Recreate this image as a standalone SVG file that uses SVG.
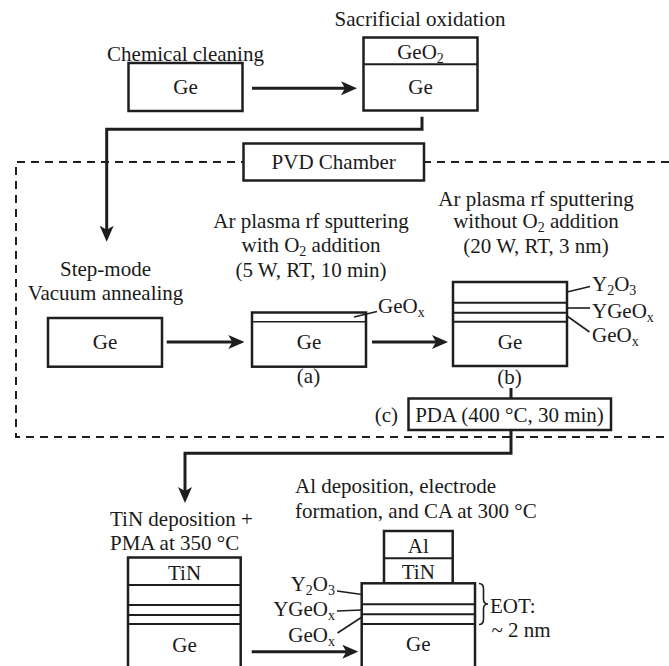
<svg xmlns="http://www.w3.org/2000/svg" width="669" height="666" viewBox="0 0 669 666">
<defs>
<style>
text{font-family:"Liberation Serif","Times New Roman",serif;font-size:21px;fill:#1a1a1a}
.m{text-anchor:middle}
.e{text-anchor:end}
.s{font-size:14px}
.box{fill:#fff;stroke:#1e1e1e;stroke-width:2.5}
.ln{fill:none;stroke:#1e1e1e;stroke-width:2}
.thin{fill:none;stroke:#1e1e1e;stroke-width:1.6}
.con{fill:none;stroke:#1e1e1e;stroke-width:3}
.dash{fill:none;stroke:#1e1e1e;stroke-width:2;stroke-dasharray:8 6}
</style>
<marker id="ah" viewBox="0 0 16 14" refX="6" refY="7" markerWidth="16" markerHeight="14" markerUnits="userSpaceOnUse" orient="auto">
<path d="M0,0 L16,7 L0,14 L4,7 Z" fill="#1e1e1e"/>
</marker>
</defs>
<rect width="669" height="666" fill="#fff"/>

<g id="chamber">
<path class="dash" d="M669,162 H16 V437 H669"/>
</g>

<g id="connectors">
<path class="con" d="M252,88.3 H347" marker-end="url(#ah)"/>
<path class="con" d="M422,116.7 V129.3 H106.7 V231.7" marker-end="url(#ah)"/>
<path class="con" d="M166.7,342 H234.3" marker-end="url(#ah)"/>
<path class="con" d="M372,342 H438" marker-end="url(#ah)"/>
<path class="con" d="M511,388 V398.5"/>
<path class="con" d="M511,430 V453.3 H185 V493" marker-end="url(#ah)"/>
<path class="con" d="M251.7,651.7 H348.3" marker-end="url(#ah)"/>
</g>

<g id="chemical-cleaning">
<text class="m" x="185.5" y="61">Chemical cleaning</text>
<rect class="box" x="128.5" y="63" width="114" height="48"/>
<text class="m" x="185.5" y="94">Ge</text>
</g>

<g id="sacrificial-oxidation">
<text class="m" x="420" y="26">Sacrificial oxidation</text>
<rect class="box" x="363.5" y="37.5" width="114" height="73"/>
<line class="ln" x1="363.5" y1="64.3" x2="477.5" y2="64.3"/>
<text class="m" x="420.5" y="59">GeO<tspan class="s" dy="4">2</tspan></text>
<text class="m" x="420.5" y="94">Ge</text>
</g>

<g id="pvd-chamber">
<rect class="box" x="243.5" y="143.5" width="180.5" height="37"/>
<text class="m" x="333.7" y="169">PVD Chamber</text>
</g>

<g id="vacuum-annealing">
<text class="m" x="105.5" y="276">Step-mode</text>
<text class="m" x="105.5" y="300">Vacuum annealing</text>
<rect class="box" x="48" y="318" width="114" height="48.7"/>
<text class="m" x="105" y="349">Ge</text>
</g>

<g id="step-a">
<text class="m" x="311" y="228">Ar plasma rf sputtering</text>
<text class="m" x="311" y="252">with O<tspan class="s" dy="4">2</tspan><tspan dy="-4"> addition</tspan></text>
<text class="m" x="311" y="277">(5 W, RT, 10 min)</text>
<rect class="box" x="252" y="312.5" width="114" height="54.2"/>
<line class="thin" x1="252" y1="321.7" x2="366" y2="321.7"/>
<text class="m" x="309" y="349">Ge</text>
<line class="thin" x1="354" y1="317" x2="377" y2="311.5"/>
<text x="378" y="313">GeO<tspan class="s" dy="4">x</tspan></text>
<text class="m" x="308.5" y="383">(a)</text>
</g>

<g id="step-b">
<text class="m" x="536" y="206">Ar plasma rf sputtering</text>
<text class="m" x="536" y="228">without O<tspan class="s" dy="4">2</tspan><tspan dy="-4"> addition</tspan></text>
<text class="m" x="536" y="253">(20 W, RT, 3 nm)</text>
<rect class="box" x="453" y="282" width="114" height="84"/>
<line class="ln" x1="453" y1="302.7" x2="567" y2="302.7"/>
<line class="ln" x1="453" y1="312.7" x2="567" y2="312.7"/>
<line class="ln" x1="453" y1="321.7" x2="567" y2="321.7"/>
<text class="m" x="510" y="349">Ge</text>
<line class="thin" x1="567" y1="292" x2="590" y2="286.5"/>
<line class="thin" x1="567" y1="308" x2="590" y2="308"/>
<line class="thin" x1="567" y1="316" x2="589.5" y2="332"/>
<text x="592" y="291">Y<tspan class="s" dy="4">2</tspan><tspan dy="-4">O</tspan><tspan class="s" dy="4">3</tspan></text>
<text x="592" y="318">YGeO<tspan class="s" dy="4">x</tspan></text>
<text x="592" y="342">GeO<tspan class="s" dy="4">x</tspan></text>
<text class="m" x="509.5" y="384">(b)</text>
</g>

<g id="pda">
<rect class="box" x="408.5" y="398.5" width="202.5" height="31.5"/>
<text class="m" x="509.5" y="421.7">PDA (400 °C, 30 min)</text>
<text class="e" x="398" y="421.7">(c)</text>
</g>

<g id="tin-deposition">
<text x="110" y="526">TiN deposition +</text>
<text x="110" y="550">PMA at 350 °C</text>
<rect class="box" x="128" y="557.5" width="112.7" height="115"/>
<line class="ln" x1="128" y1="585" x2="240.7" y2="585"/>
<line class="ln" x1="128" y1="605" x2="240.7" y2="605"/>
<line class="ln" x1="128" y1="615" x2="240.7" y2="615"/>
<line class="ln" x1="128" y1="624" x2="240.7" y2="624"/>
<text class="m" x="184.5" y="580">TiN</text>
<text class="m" x="184.5" y="652">Ge</text>
</g>

<g id="al-deposition">
<text x="295" y="493.3">Al deposition, electrode</text>
<text x="295" y="518.3">formation, and CA at 300 °C</text>
<rect class="box" x="384" y="531" width="68.7" height="52.3"/>
<line class="ln" x1="384" y1="558.3" x2="452.7" y2="558.3"/>
<text class="m" x="418.3" y="553">Al</text>
<text class="m" x="418.3" y="578.5">TiN</text>
<rect class="box" x="361.7" y="583.3" width="113.3" height="90"/>
<line class="ln" x1="361.7" y1="604.3" x2="475" y2="604.3"/>
<line class="ln" x1="361.7" y1="614.3" x2="475" y2="614.3"/>
<line class="ln" x1="361.7" y1="624" x2="475" y2="624"/>
<text class="m" x="418.3" y="651">Ge</text>
<line class="thin" x1="337" y1="591" x2="362" y2="594.5"/>
<line class="thin" x1="337" y1="611" x2="362" y2="610"/>
<line class="thin" x1="337.5" y1="633" x2="362" y2="617"/>
<text class="e" x="335" y="591">Y<tspan class="s" dy="4">2</tspan><tspan dy="-4">O</tspan><tspan class="s" dy="4">3</tspan></text>
<text class="e" x="335" y="616">YGeO<tspan class="s" dy="4">x</tspan></text>
<text class="e" x="335" y="641.7">GeO<tspan class="s" dy="4">x</tspan></text>
<path class="thin" d="M479,583.5 Q483.5,583.5 483.5,589 L483.5,599 Q483.5,604 488,604 Q483.5,604 483.5,609 L483.5,619 Q483.5,624.5 479,624.5"/>
<text x="490" y="613">EOT:</text>
<text x="491.5" y="637">~ 2 nm</text>
</g>
</svg>
